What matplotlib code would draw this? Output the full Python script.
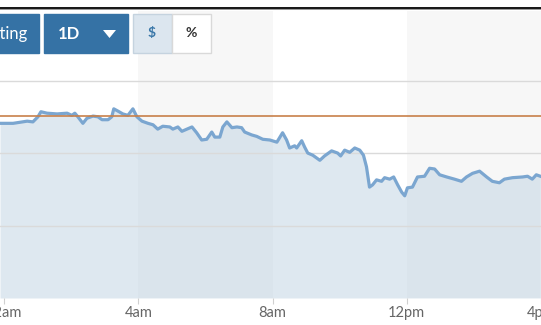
import matplotlib
matplotlib.use("Agg")
import matplotlib.pyplot as plt
from matplotlib.patches import Rectangle, Polygon

# intraday series: hours since midnight, price (chart units)
hours = [
    -0.12, 0.27, 0.69, 0.86, 1.01, 1.10, 1.28, 1.58, 1.88, 2.02, 2.11, 2.20,
    2.35, 2.47, 2.65, 2.80, 2.92, 3.10, 3.21, 3.27, 3.39, 3.54, 3.69, 3.84,
    3.96, 4.11, 4.29, 4.44, 4.58, 4.73, 4.94, 5.03, 5.18, 5.30, 5.45, 5.60,
    5.74, 5.89, 6.04, 6.19, 6.28, 6.43, 6.52, 6.64, 6.79, 6.94, 7.08, 7.17,
    7.38, 7.53, 7.71, 7.92, 8.13, 8.30, 8.42, 8.51, 8.66, 8.72, 8.87, 8.96,
    9.05, 9.20, 9.41, 9.55, 9.76, 9.94, 10.03, 10.15, 10.30, 10.45, 10.60,
    10.71, 10.80, 10.89, 10.98, 11.10, 11.25, 11.34, 11.49, 11.61, 11.73,
    11.85, 11.94, 12.02, 12.17, 12.32, 12.53, 12.68, 12.83, 12.98, 13.19,
    13.42, 13.63, 13.78, 13.96, 14.17, 14.38, 14.55, 14.76, 14.91, 15.15,
    15.45, 15.60, 15.74, 15.86, 15.98,
]
price = [
    2.41, 2.41, 2.44, 2.43, 2.50, 2.57, 2.55, 2.54, 2.55, 2.52, 2.55, 2.50,
    2.41, 2.48, 2.51, 2.50, 2.46, 2.46, 2.50, 2.61, 2.58, 2.54, 2.52, 2.61,
    2.50, 2.44, 2.41, 2.39, 2.33, 2.37, 2.36, 2.33, 2.36, 2.30, 2.33, 2.36,
    2.28, 2.18, 2.19, 2.29, 2.22, 2.22, 2.36, 2.43, 2.35, 2.36, 2.35, 2.29,
    2.25, 2.23, 2.19, 2.18, 2.15, 2.28, 2.18, 2.07, 2.10, 2.07, 2.17, 2.08,
    2.00, 1.97, 1.90, 1.96, 2.03, 2.00, 1.96, 2.04, 2.01, 2.07, 2.04,
    1.97, 1.81, 1.53, 1.56, 1.63, 1.61, 1.66, 1.64, 1.67, 1.56,
    1.46, 1.41, 1.52, 1.53, 1.67, 1.68, 1.79, 1.78, 1.70, 1.67,
    1.64, 1.61, 1.67, 1.72, 1.75, 1.67, 1.61, 1.59, 1.64, 1.66,
    1.67, 1.68, 1.64, 1.70, 1.68,
]
prev_close = 2.51
tick_hours = [0, 4, 8, 12, 16]
tick_labels = ["12am", "4am", "8am", "12pm", "4pm"]

W, H = 541, 325
fig = plt.figure(figsize=(W / 100, H / 100), dpi=100)
fig.patch.set_facecolor("white")


def fx(x):
    return x / W


def fy(y):
    return 1 - y / H


# plot area
ax = fig.add_axes([0, fy(298), 1, (298 - 11) / H])
ax.set_xlim(-0.12, 16.0)
ax.set_ylim(0, 3.96)
ax.set_facecolor("white")
for s in ax.spines.values():
    s.set_visible(False)

ax.axvspan(4, 8, color="#f7f7f7", zorder=0, lw=0)
ax.axvspan(12, 16, color="#f7f7f7", zorder=0, lw=0)

ax.fill_between(hours, price, 0, color="#bfd3e3", alpha=0.5, lw=0, zorder=1)
for g in [1, 2, 3]:
    ax.axhline(g, color="#dadada", lw=1, zorder=2)
ax.plot(hours, price, color="#7ba6d0", lw=2.3, zorder=3)
ax.axhline(prev_close, color="#c8804a", lw=1.2, zorder=4)

ax.set_yticks([])
ax.set_xticks(tick_hours)
ax.set_xticklabels(tick_labels, fontsize=10.5, color="#666666", family="Lato")
ax.tick_params(axis="x", length=4, color="#d0d0d0", pad=2)

# top page rule
fig.add_artist(Rectangle((0, fy(9)), 1, 2 / H, transform=fig.transFigure,
                         color="#1a1a1a", lw=0))
fig.add_artist(Rectangle((0, fy(10)), 1, 1 / H, transform=fig.transFigure,
                         color="#9a9a9a", lw=0))

# controls
blue = "#3572a5"


def button(x0, x1, face, edge=None):
    fig.add_artist(Rectangle((fx(x0), fy(53)), fx(x1 - x0), 39 / H,
                             transform=fig.transFigure, facecolor=face,
                             edgecolor=edge if edge else face, lw=1))


button(-2, 39, blue)
button(44, 128, blue)
button(133, 172, "#dce6ef", "#c5d3df")
button(172, 211, "white", "#d9d9d9")

fig.text(fx(27), fy(34), "Charting", ha="right", va="center", color="white",
         fontsize=12, family="Lato")
fig.text(fx(58), fy(34), "1D", ha="left", va="center", color="white",
         fontsize=12, family="Lato", weight="bold")
fig.add_artist(Polygon([(fx(103), fy(30)), (fx(116), fy(30)), (fx(109.5), fy(38))],
                       closed=True, transform=fig.transFigure, color="white", lw=0))
fig.text(fx(152), fy(33), "$", ha="center", va="center", color="#3a77a8",
         fontsize=10, family="Lato", weight="bold")
fig.text(fx(191), fy(33), "%", ha="center", va="center", color="#333333",
         fontsize=10, family="Lato", weight="bold")

fig.savefig("out.png", dpi=100)
